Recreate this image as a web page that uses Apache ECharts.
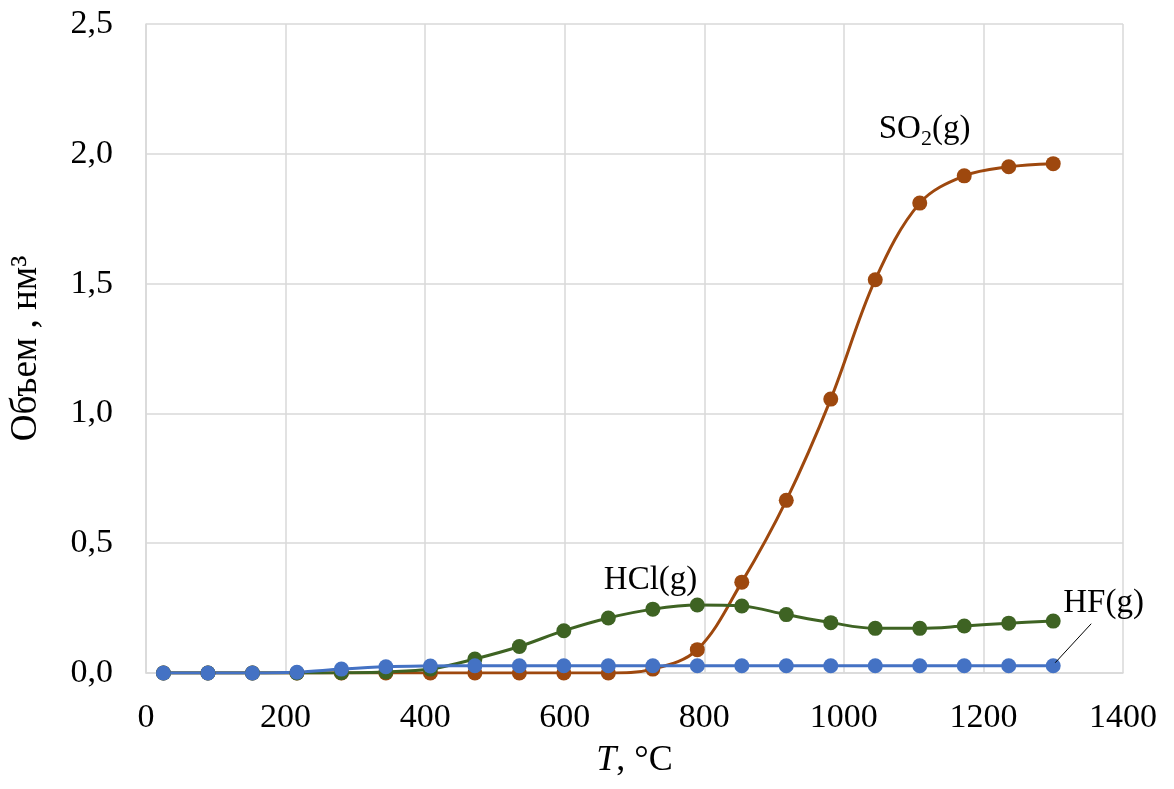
<!DOCTYPE html>
<html>
<head>
<meta charset="utf-8">
<script src="https://cdn.jsdelivr.net/npm/echarts@6/dist/echarts.min.js"></script>
<style>
  html, body { margin: 0; padding: 0; background: #fff; }
  #chart { width: 1174px; height: 789px; }
</style>
</head>
<body>
<div id="chart"></div>
<script>
// Temperature points, °C
const temperatures = [25, 88.75, 152.5, 216.25, 280, 343.75, 407.5, 471.25, 535, 598.75,
  662.5, 726.25, 790, 853.75, 917.5, 981.25, 1045, 1108.75, 1172.5, 1236.25, 1300];

// Gas volumes, nm³
const so2 = [0, 0, 0, 0, 0, 0, 0, 0, 0, 0,
  0, 0.015, 0.09, 0.35, 0.665, 1.055, 1.515, 1.81, 1.915, 1.95, 1.962];
const hcl = [0, 0, 0, 0, 0.001, 0.004, 0.015, 0.054, 0.102, 0.163,
  0.212, 0.246, 0.262, 0.258, 0.225, 0.194, 0.172, 0.172, 0.181, 0.192, 0.2];
const hf = [0, 0, 0, 0.003, 0.015, 0.024, 0.027, 0.028, 0.028, 0.028,
  0.028, 0.028, 0.028, 0.028, 0.028, 0.028, 0.028, 0.028, 0.028, 0.028, 0.028];

const xTicks = [0, 200, 400, 600, 800, 1000, 1200, 1400];
const yTicks = [0, 0.5, 1.0, 1.5, 2.0, 2.5];

const FONT = '"Liberation Serif", "Times New Roman", serif';
const pairs = ys => temperatures.map((t, i) => [t, ys[i]]);

const chart = echarts.init(document.getElementById('chart'), null, { renderer: 'canvas' });

function lineSeries(name, ys, color) {
  return {
    name, type: 'line', data: pairs(ys), smooth: 0.35,
    symbol: 'circle', symbolSize: 15,
    lineStyle: { color, width: 3 },
    itemStyle: { color },
    emphasis: { disabled: true },
    z: 2
  };
}

chart.setOption({
  animation: false,
  textStyle: { fontFamily: FONT },
  grid: { left: 146, right: 51, top: 24, bottom: 116 },
  xAxis: {
    type: 'value', min: xTicks[0], max: xTicks[xTicks.length - 1], interval: 200,
    axisLine: { show: true, lineStyle: { color: '#d9d9d9', width: 1.5 } },
    axisTick: { show: false },
    splitLine: { show: true, lineStyle: { color: '#d9d9d9', width: 1.5 } },
    axisLabel: { color: '#000', fontSize: 34, fontFamily: FONT, margin: 28, formatter: v => String(v) },
    name: '{i|T}, °C',
    nameLocation: 'middle', nameGap: 70,
    nameTextStyle: {
      color: '#000', fontSize: 36, fontFamily: FONT,
      rich: { i: { fontStyle: 'italic', fontSize: 36, fontFamily: FONT, color: '#000' } }
    }
  },
  yAxis: {
    type: 'value', min: yTicks[0], max: yTicks[yTicks.length - 1], interval: 0.5,
    axisLine: { show: true, lineStyle: { color: '#d9d9d9', width: 1.5 } },
    axisTick: { show: false },
    splitLine: { show: true, lineStyle: { color: '#d9d9d9', width: 1.5 } },
    axisLabel: {
      color: '#000', fontSize: 34, fontFamily: FONT, margin: 33,
      formatter: v => v.toFixed(1).replace('.', ',')
    },
    name: 'Объем , нм³',
    nameLocation: 'middle', nameGap: 101,
    nameTextStyle: { color: '#000', fontSize: 37, fontFamily: FONT }
  },
  series: [
    lineSeries('SO2(g)', so2, '#9e480e'),
    lineSeries('HCl(g)', hcl, '#3e6323'),
    lineSeries('HF(g)', hf, '#4472c4')
  ]
});

// Series annotations, anchored to data coordinates
const px = (x, y) => chart.convertToPixel({ gridIndex: 0 }, [x, y]);
const so2Anchor = px(temperatures[17], so2[17]);
const hclAnchor = px(temperatures[11], hcl[11]);
const hfEnd = px(temperatures[20], hf[20]);
const labelStyle = { fill: '#000', fontSize: 33, fontFamily: FONT, verticalAlign: 'middle' };

chart.setOption({
  graphic: [
    {
      type: 'text', x: so2Anchor[0] - 41, y: so2Anchor[1] - 74,
      style: Object.assign({}, labelStyle, {
        text: 'SO{s|2}(g)',
        rich: { s: { fontSize: 22, fontFamily: FONT, fill: '#000', padding: [20, 0, 0, 0] } }
      }),
      z: 10
    },
    {
      type: 'text', x: hclAnchor[0] - 49, y: hclAnchor[1] - 29,
      style: Object.assign({}, labelStyle, { text: 'HCl(g)' }), z: 10
    },
    {
      type: 'line',
      shape: { x1: hfEnd[0] + 2, y1: hfEnd[1] - 3, x2: hfEnd[0] + 38, y2: hfEnd[1] - 42 },
      style: { stroke: '#000', lineWidth: 1 }, z: 10
    },
    {
      type: 'text', x: hfEnd[0] + 10, y: hfEnd[1] - 62,
      style: Object.assign({}, labelStyle, { text: 'HF(g)' }), z: 10
    }
  ]
});
</script>
</body>
</html>
